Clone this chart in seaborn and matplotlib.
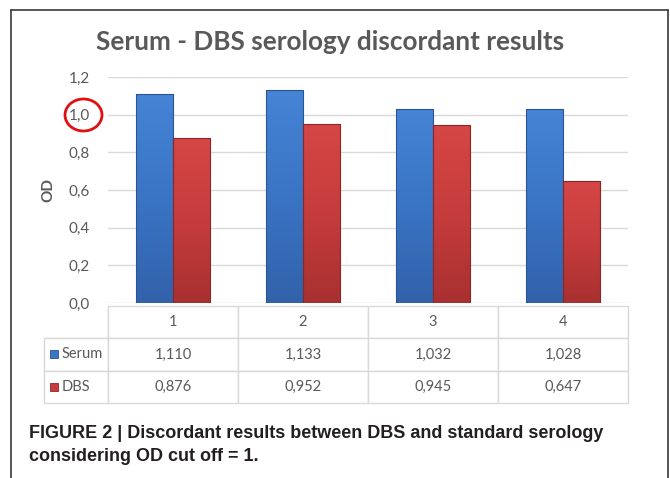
import matplotlib
matplotlib.use('Agg')
import matplotlib.pyplot as plt
import matplotlib.ticker as mticker
from matplotlib.colors import LinearSegmentedColormap
from matplotlib.patches import Rectangle, Ellipse
from matplotlib.lines import Line2D
import numpy as np
import pandas as pd
import seaborn as sns

# Data
CATEGORIES = ['1', '2', '3', '4']
SERIES     = ['Serum', 'DBS']
SERUM_OD   = [1.110, 1.133, 1.032, 1.028]
DBS_OD     = [0.876, 0.952, 0.945, 0.647]
Y_TICKS    = [0.0, 0.2, 0.4, 0.6, 0.8, 1.0, 1.2]

TITLE   = 'Serum - DBS serology discordant results'
CAPTION = ('FIGURE 2 | Discordant results between DBS and standard serology\n'
           'considering OD cut off = 1.')

BLUE      = '#3a76c6'
BLUE_EDGE = '#2a5592'
RED       = '#c93b3b'
RED_EDGE  = '#8f2626'
TEXT_GREY = '#595959'
GRID_GREY = '#d9d9d9'

# light top -> darker bottom, like the bevelled Excel bars
GRADIENTS = {
    BLUE: LinearSegmentedColormap.from_list('b', ['#3262aa', '#3a74c4', '#4684d6']),
    RED:  LinearSegmentedColormap.from_list('r', ['#a83030', '#c63c3c', '#d64646']),
}

W, H = 670, 478


def fx(px):
    return px / W


def fy(py):
    return 1 - py / H


df = pd.DataFrame({
    'category': CATEGORIES * 2,
    'series':   [SERIES[0]] * 4 + [SERIES[1]] * 4,
    'od':       SERUM_OD + DBS_OD,
})

sns.set_theme(style='white')
plt.rcParams['font.family'] = ['Lato', 'DejaVu Sans']

fig = plt.figure(figsize=(W / 100, H / 100), dpi=100)
fig.patch.set_facecolor('white')
ax = fig.add_axes([fx(108), fy(303), fx(628) - fx(108), fy(77) - fy(303)])

sns.barplot(data=df, x='category', y='od', hue='series',
            palette=[BLUE, RED], width=0.57, ax=ax, legend=False,
            saturation=1)

ax.set_xlim(-0.5, 3.5)
ax.set_ylim(0, 1.2)

# gradient fill clipped to every bar
grad = np.linspace(0, 1, 256).reshape(-1, 1)
for bar, col, edge in zip(ax.patches, [BLUE] * 4 + [RED] * 4,
                          [BLUE_EDGE] * 4 + [RED_EDGE] * 4):
    x0, y0 = bar.get_x(), bar.get_y()
    w, h = bar.get_width(), bar.get_height()
    im = ax.imshow(grad, cmap=GRADIENTS[col], aspect='auto', origin='lower',
                   extent=[x0, x0 + w, y0, y0 + h], zorder=bar.get_zorder())
    im.set_clip_path(bar)
    bar.set_facecolor('none')
    bar.set_edgecolor(edge)
    bar.set_linewidth(0.8)
    bar.set_zorder(bar.get_zorder() + 0.1)

ax.set_xlim(-0.5, 3.5)
ax.set_ylim(0, 1.2)
ax.set_yticks(Y_TICKS)
ax.yaxis.set_major_formatter(
    mticker.FuncFormatter(lambda v, _: f'{v:.1f}'.replace('.', ',')))
ax.tick_params(axis='y', length=0, pad=13, labelsize=11, labelcolor=TEXT_GREY)
ax.set_xticks([])
ax.set_xlabel('')
ax.set_ylabel('')
ax.yaxis.grid(True, color=GRID_GREY, linewidth=1)
ax.set_axisbelow(True)
for s in ax.spines.values():
    s.set_visible(False)

# Data table under the plot
serum_txt = [f'{v:.3f}'.replace('.', ',') for v in SERUM_OD]
dbs_txt   = [f'{v:.3f}'.replace('.', ',') for v in DBS_OD]
cell_text = [[''] + CATEGORIES,
             ['Serum'] + serum_txt,
             ['DBS'] + dbs_txt]
ax_w = 628 - 108
ax_h = 303 - 77
tbl = ax.table(cellText=cell_text,
               colWidths=[64, 130, 130, 130, 130],
               cellLoc='center',
               bbox=[(44 - 108) / ax_w, (303 - 403) / ax_h,
                     (628 - 44) / ax_w, (403 - 306) / ax_h])
tbl.auto_set_font_size(False)
for (r, c), cell in tbl.get_celld().items():
    cell.set_edgecolor(GRID_GREY)
    cell.set_linewidth(1)
    cell.get_text().set_color(TEXT_GREY)
    cell.get_text().set_fontsize(10.5)
    if c == 0:
        cell._loc = 'left'
        cell.PAD = 0.27
        cell.get_text().set_ha('left')
    if r == 0 and c == 0:
        cell.visible_edges = 'BR'

# Legend keys in the table
for ypx, col, edge in [(354, BLUE, BLUE_EDGE), (387, RED, RED_EDGE)]:
    fig.add_artist(Rectangle((fx(50), fy(ypx + 4)), fx(8), 8 / H,
                             transform=fig.transFigure, facecolor=col,
                             edgecolor=edge, linewidth=0.6))

fig.text(fx(330), fy(42), TITLE, ha='center', va='center',
         fontsize=18.8, fontweight='bold', color=TEXT_GREY)
fig.text(fx(48), fy(190), 'OD', ha='center', va='center', rotation=90,
         fontsize=11, fontweight='bold', color=TEXT_GREY)

# Red circle around the 1,0 cut off
fig.add_artist(Ellipse((fx(83.5), fy(115)), fx(37), 32 / H,
                       transform=fig.transFigure, fill=False,
                       edgecolor='#e01010', linewidth=2))

# Frame round the figure
for xs, ys in [([11, 11], [478, 10]), ([11, 668], [10, 10]), ([668, 668], [10, 478])]:
    fig.add_artist(Line2D([fx(x) for x in xs], [fy(y) for y in ys],
                          transform=fig.transFigure, color='#3a3a3a',
                          linewidth=1.2))

fig.text(fx(29), fy(445), CAPTION, ha='left', va='center',
         fontsize=13, fontweight='bold', color='#231f20', linespacing=1.5,
         family=['Liberation Sans Narrow', 'Liberation Sans', 'DejaVu Sans'])

fig.savefig('out.png', dpi=100)
